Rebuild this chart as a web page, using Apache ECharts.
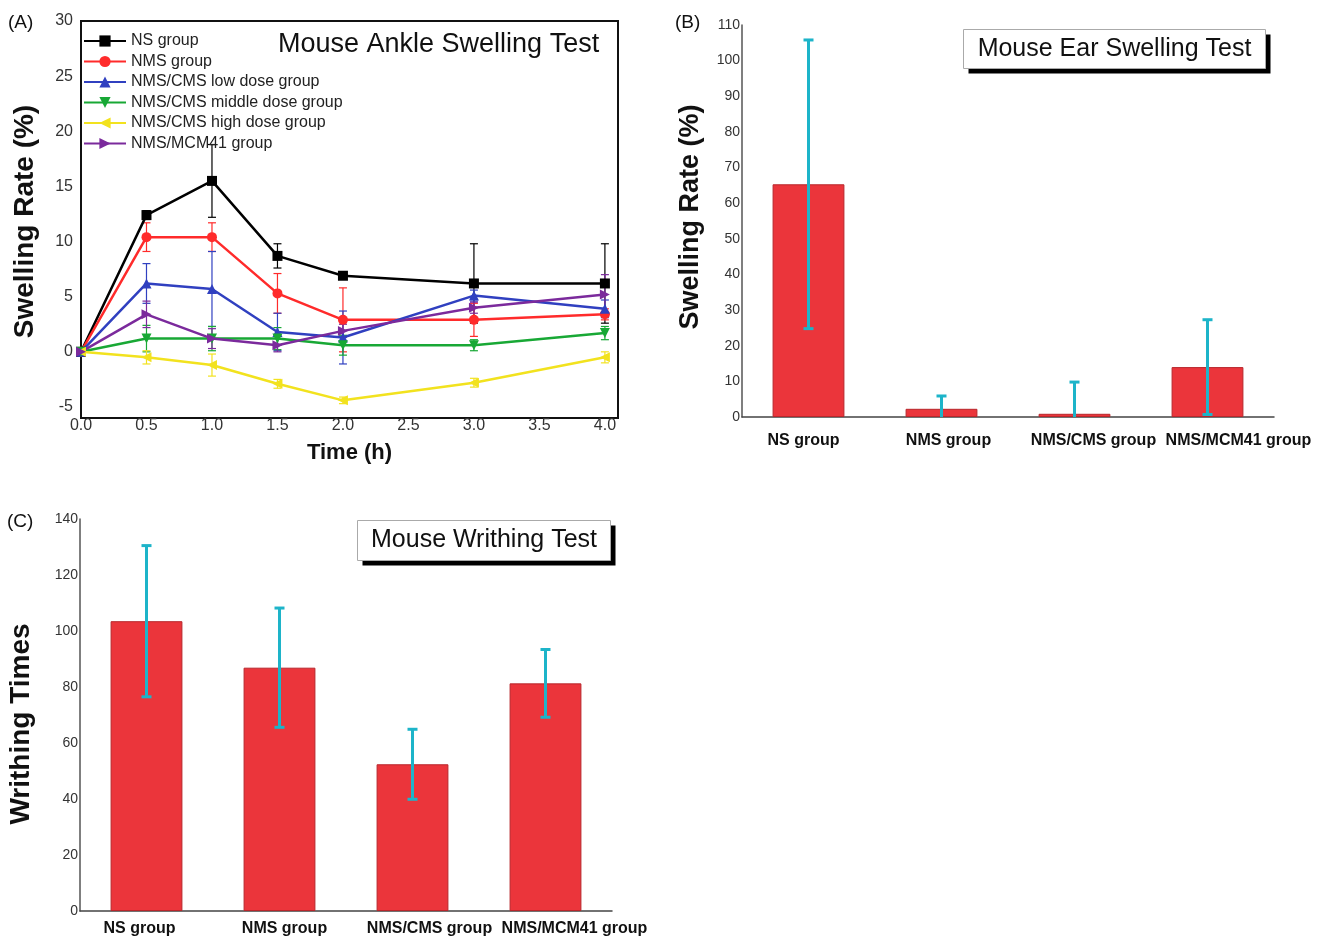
<!DOCTYPE html>
<html><head><meta charset="utf-8">
<script src="https://cdn.jsdelivr.net/npm/echarts@6/dist/echarts.min.js"></script>
<style>html,body{margin:0;padding:0;background:#fff}#c{width:1317px;height:937px}</style>
</head><body><div id="c"></div>
<script>
// ---- Panel A data ----
const timesA = [0, 0.5, 1.0, 1.5, 2.0, 3.0, 4.0];
const namesA = ['NS group','NMS group','NMS/CMS low dose group','NMS/CMS middle dose group','NMS/CMS high dose group','NMS/MCM41 group'];
const nsA    = [0, 12.4, 15.5, 8.7, 6.9, 6.2, 6.2];
const nsErrA = [0, 0.4, 3.3, 1.1, 0.3, 3.6, 3.6];
const nmsA    = [0, 10.4, 10.4, 5.3, 2.9, 2.9, 3.4];
const nmsErrA = [0, 1.3, 1.3, 1.8, 2.9, 1.5, 0.5];
const lowA    = [0, 6.2, 5.7, 1.8, 1.3, 5.1, 3.9];
const lowErrA = [0, 1.8, 3.4, 1.7, 2.4, 0.5, 0.8];
const midA    = [0, 1.2, 1.2, 1.2, 0.6, 0.6, 1.7];
const midErrA = [0, 1.2, 1.1, 1.0, 0.9, 0.5, 0.6];
const highA    = [0, -0.5, -1.2, -2.9, -4.4, -2.8, -0.5];
const highErrA = [0, 0.6, 1.0, 0.4, 0.3, 0.4, 0.5];
const mcmA    = [0, 3.4, 1.2, 0.6, 1.9, 4.0, 5.2];
const mcmErrA = [0, 1.2, 0.9, 0.6, 0.6, 0.5, 1.8];
const yLabelStepA = 5;
// ---- Panel B data ----
const groupsB = ['NS group','NMS group','NMS/CMS group','NMS/MCM41 group'];
const earB    = [65.3, 2.3, 0.9, 14.0];
const earErrB = [40.5, 3.6, 8.9, 13.3];
// ---- Panel C data ----
const groupsC = ['NS group','NMS group','NMS/CMS group','NMS/MCM41 group'];
const writhC    = [103.5, 86.9, 52.4, 81.3];
const writhErrC = [27.0, 21.3, 12.5, 12.1];

const FONT = 'Liberation Sans, Arial, sans-serif';
const colorsA = ['#000000','#ff2b2b','#3040c0','#18a835','#f2e21e','#7b2a9c'];
const symbolsA = [['rect',0],['circle',0],['triangle',0],['triangle',180],['triangle',90],['triangle',-90]];
const valuesA = [nsA, nmsA, lowA, midA, highA, mcmA];
const errsA = [nsErrA, nmsErrA, lowErrA, midErrA, highErrA, mcmErrA];

function errRender(color, lw, cap, floor) {
  return function (params, api) {
    const x = api.value(0), lo = api.value(1), hi = api.value(2);
    const loC = (floor !== undefined) ? Math.max(floor, lo) : lo;
    const pH = api.coord([x, hi]), pL = api.coord([x, loC]);
    const st = {stroke: color, lineWidth: lw};
    const ch = [
      {type: 'line', shape: {x1: pH[0], y1: pH[1], x2: pL[0], y2: pL[1]}, style: st},
      {type: 'line', shape: {x1: pH[0]-cap, y1: pH[1], x2: pH[0]+cap, y2: pH[1]}, style: st}
    ];
    if (floor === undefined || lo > floor) {
      ch.push({type: 'line', shape: {x1: pL[0]-cap, y1: pL[1], x2: pL[0]+cap, y2: pL[1]}, style: st});
    }
    return {type: 'group', children: ch};
  };
}

const series = [];
namesA.forEach((n, i) => {
  series.push({
    type: 'custom', xAxisIndex: 0, yAxisIndex: 0, z: 1, silent: true,
    renderItem: errRender(colorsA[i], 1.2, 4),
    data: timesA.map((t, k) => [t, valuesA[i][k] - errsA[i][k], valuesA[i][k] + errsA[i][k]])
  });
});
namesA.forEach((n, i) => {
  series.push({
    name: n, type: 'line', xAxisIndex: 0, yAxisIndex: 0, z: 3,
    symbol: symbolsA[i][0], symbolRotate: symbolsA[i][1], symbolSize: 10,
    lineStyle: {color: colorsA[i], width: 2.5},
    itemStyle: {color: colorsA[i]},
    data: timesA.map((t, k) => [t, valuesA[i][k]])
  });
});
series.push({
  type: 'bar', xAxisIndex: 1, yAxisIndex: 1, barWidth: '54%',
  itemStyle: {color: '#eb353b', borderColor: '#b8262b', borderWidth: 1},
  data: earB
});
series.push({
  type: 'custom', xAxisIndex: 1, yAxisIndex: 1, z: 5,
  renderItem: errRender('#1db4c9', 3, 5, 0),
  data: groupsB.map((g, k) => [k, earB[k] - earErrB[k], earB[k] + earErrB[k]])
});
series.push({
  type: 'bar', xAxisIndex: 2, yAxisIndex: 2, barWidth: '54%',
  itemStyle: {color: '#eb353b', borderColor: '#b8262b', borderWidth: 1},
  data: writhC
});
series.push({
  type: 'custom', xAxisIndex: 2, yAxisIndex: 2, z: 5,
  renderItem: errRender('#1db4c9', 3, 5, 0),
  data: groupsC.map((g, k) => [k, writhC[k] - writhErrC[k], writhC[k] + writhErrC[k]])
});

const tickLbl = {color: '#333', fontFamily: FONT, fontSize: 16};
const catLbl = {color: '#111', fontFamily: FONT, fontSize: 16, fontWeight: 'bold', interval: 0};
const yNameStyle = (s) => ({color: '#111', fontFamily: FONT, fontSize: s, fontWeight: 'bold'});

function titleBox(x, y, w, h, text) {
  return {
    type: 'group', left: x, top: y, children: [
      {type: 'rect', shape: {x: 5, y: 5, width: w, height: h}, style: {fill: '#000'}},
      {type: 'rect', shape: {x: 0, y: 0, width: w, height: h}, style: {fill: '#fff', stroke: '#aaa', lineWidth: 1}},
      {type: 'text', x: w / 2, y: h / 2, style: {text: text, fontFamily: FONT, fontSize: 25, fill: '#111', align: 'center', verticalAlign: 'middle'}}
    ]
  };
}

const option = {
  animation: false,
  backgroundColor: '#fff',
  title: [
    {text: '(A)', left: 8, top: 13, padding: 0, textStyle: {fontFamily: FONT, fontSize: 19, fontWeight: 'normal', color: '#111'}},
    {text: '(B)', left: 675, top: 13, padding: 0, textStyle: {fontFamily: FONT, fontSize: 19, fontWeight: 'normal', color: '#111'}},
    {text: '(C)', left: 7, top: 512, padding: 0, textStyle: {fontFamily: FONT, fontSize: 19, fontWeight: 'normal', color: '#111'}},
    {text: 'Mouse Ankle Swelling Test', left: 278, top: 31, padding: 0,
      textStyle: {fontFamily: FONT, fontSize: 27, fontWeight: 'normal', color: '#111'}}
  ],
  graphic: [
    titleBox(963, 29, 302, 39, 'Mouse Ear Swelling Test'),
    titleBox(357, 520, 253, 40, 'Mouse Writhing Test')
  ],
  legend: {
    data: namesA, orient: 'vertical', left: 83, top: 33, padding: 0,
    itemWidth: 42, itemHeight: 14, itemGap: 4.5,
    textStyle: {fontFamily: FONT, fontSize: 16, color: '#222'}
  },
  grid: [
    {left: 81, top: 21, width: 537, height: 397, show: true, borderColor: '#111', borderWidth: 2},
    {left: 742, top: 25, width: 532, height: 392},
    {left: 80, top: 519, width: 532, height: 392},
    {left: 731, top: 25, width: 580, height: 392},
    {left: 67, top: 519, width: 580, height: 392}
  ],
  xAxis: [
    {gridIndex: 0, type: 'value', min: 0, max: 4.1, interval: 0.5,
      axisLine: {show: true, onZero: false, lineStyle: {color: '#111', width: 2}}, axisTick: {show: false},
      splitLine: {show: false},
      axisLabel: Object.assign({}, tickLbl, {margin: 0, showMaxLabel: false, formatter: v => v.toFixed(1)}),
      name: 'Time (h)', nameLocation: 'middle', nameGap: 24, nameTextStyle: yNameStyle(22)},
    {gridIndex: 1, type: 'category', data: groupsB,
      axisLine: {lineStyle: {color: '#444', width: 1.5}}, axisTick: {show: false}, axisLabel: {show: false}},
    {gridIndex: 2, type: 'category', data: groupsC,
      axisLine: {lineStyle: {color: '#444', width: 1.5}}, axisTick: {show: false}, axisLabel: {show: false}},
    {gridIndex: 3, type: 'category', data: groupsB,
      axisLine: {show: false}, axisTick: {show: false}, axisLabel: Object.assign({}, catLbl, {margin: 16})},
    {gridIndex: 4, type: 'category', data: groupsC,
      axisLine: {show: false}, axisTick: {show: false}, axisLabel: Object.assign({}, catLbl, {margin: 10})}
  ],
  yAxis: [
    {gridIndex: 0, type: 'value', min: -6, max: 30, interval: 1,
      axisLine: {show: true, onZero: false, lineStyle: {color: '#111', width: 2}}, axisTick: {show: false},
      splitLine: {show: false},
      axisLabel: Object.assign({}, tickLbl, {margin: 8, formatter: v => (v % yLabelStepA === 0 ? String(v) : '')}),
      name: 'Swelling Rate (%)', nameLocation: 'middle', nameGap: 42, nameTextStyle: Object.assign(yNameStyle(28), {padding: [0, 4, 0, 0]})},
    {gridIndex: 1, type: 'value', min: 0, max: 110, interval: 10,
      axisLine: {show: true, lineStyle: {color: '#555', width: 1.5}}, axisTick: {show: false},
      splitLine: {show: false}, axisLabel: Object.assign({}, tickLbl, {fontSize: 14, margin: 2}),
      name: 'Swelling Rate (%)', nameLocation: 'middle', nameGap: 38, nameTextStyle: Object.assign(yNameStyle(27), {padding: [0, 0, 0, 8]})},
    {gridIndex: 2, type: 'value', min: 0, max: 140, interval: 20,
      axisLine: {show: true, lineStyle: {color: '#555', width: 1.5}}, axisTick: {show: false},
      splitLine: {show: false}, axisLabel: Object.assign({}, tickLbl, {fontSize: 14, margin: 2}),
      name: 'Writhing Times', nameLocation: 'middle', nameGap: 45, nameTextStyle: Object.assign(yNameStyle(28), {padding: [0, 18, 0, 0]})},
    {gridIndex: 3, type: 'value', show: false},
    {gridIndex: 4, type: 'value', show: false}
  ],
  series: series
};
const chart = echarts.init(document.getElementById('c'), null, {renderer: 'canvas'});
chart.setOption(option);
</script></body></html>
